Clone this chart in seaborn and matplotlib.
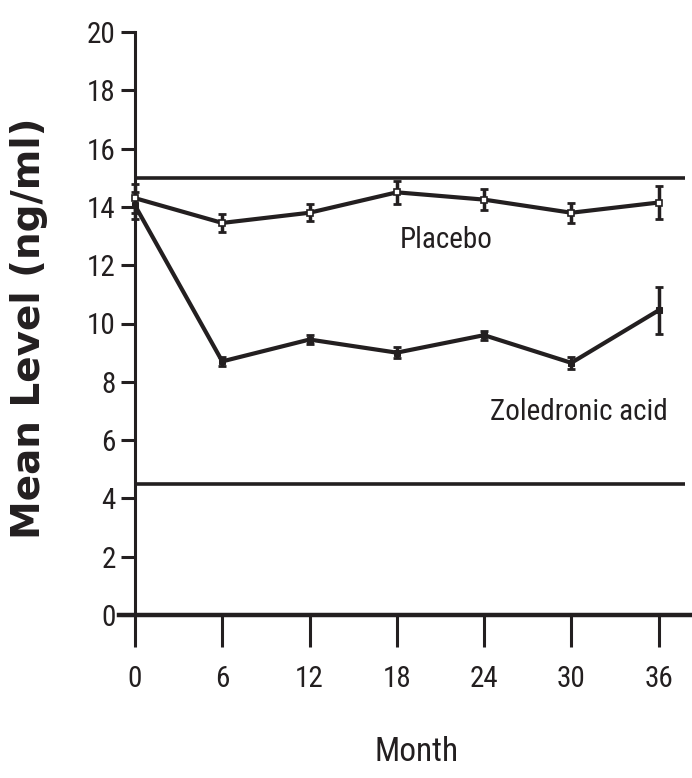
import matplotlib
matplotlib.use("Agg")
import matplotlib.pyplot as plt
import seaborn as sns
import pandas as pd
from matplotlib import font_manager

months = [0, 6, 12, 18, 24, 30, 36]
placebo = [14.3, 13.45, 13.8, 14.5, 14.25, 13.8, 14.15]
placebo_err = [0.5, 0.3, 0.3, 0.4, 0.35, 0.35, 0.55]
zoledronic = [14.05, 8.7, 9.45, 9.0, 9.6, 8.65, 10.45]
zoledronic_err = [0.45, 0.15, 0.15, 0.2, 0.15, 0.2, 0.8]
ref_upper = 15.0
ref_lower = 4.5
y_ticks = list(range(0, 21, 2))

sns.set_theme(style="white")

# prefer a condensed face when one is available
installed = {f.name for f in font_manager.fontManager.ttflist}
preferred = ["Roboto Condensed", "Open Sans Condensed", "Liberation Sans Narrow",
             "Roboto", "Liberation Sans"]
narrow = next((n for n in preferred if n in installed), "DejaVu Sans")
plt.rcParams["font.family"] = [narrow, "DejaVu Sans"]

ink = "#231f20"

df = pd.DataFrame({
    "Month": months * 2,
    "Level": placebo + zoledronic,
    "Group": ["Placebo"] * len(months) + ["Zoledronic acid"] * len(months),
})

fig = plt.figure(figsize=(6.92, 7.78), dpi=100)
ax = fig.add_axes([119 / 692, 1 - 615 / 778, (692 - 119) / 692, (615 - 32) / 778])

# reference range limits
ax.hlines([ref_upper, ref_lower], 0, 37.8, color=ink, lw=2.6, zorder=2)

sns.lineplot(data=df[df.Group == "Placebo"], x="Month", y="Level", ax=ax,
             color=ink, lw=3.0, marker="s", markersize=5,
             markerfacecolor="white", markeredgecolor=ink, markeredgewidth=1.2,
             errorbar=None, legend=False, zorder=4)
sns.lineplot(data=df[df.Group == "Zoledronic acid"], x="Month", y="Level", ax=ax,
             color=ink, lw=3.0, marker="s", markersize=5,
             markerfacecolor=ink, markeredgecolor=ink,
             errorbar=None, legend=False, zorder=4)

ax.errorbar(months, placebo, yerr=placebo_err, fmt="none", ecolor=ink,
            elinewidth=2.5, capsize=3, capthick=2.0, zorder=3)
ax.errorbar(months, zoledronic, yerr=zoledronic_err, fmt="none", ecolor=ink,
            elinewidth=2.5, capsize=3, capthick=2.0, zorder=3)

ax.set_xlim(-1.1, 38.3)
ax.set_ylim(0, 20)
ax.set_xticks(months)
ax.set_yticks(y_ticks)
ax.set_xticklabels([str(m) for m in months])
ax.set_yticklabels([str(v) for v in y_ticks])

for side in ("top", "right"):
    ax.spines[side].set_visible(False)
ax.spines["left"].set_position(("data", 0))
ax.spines["left"].set_color(ink)
ax.spines["left"].set_linewidth(2.2)
ax.spines["bottom"].set_color(ink)
ax.spines["bottom"].set_linewidth(3.2)

ax.tick_params(axis="y", direction="out", length=10, width=2.2, color=ink,
               pad=4, labelsize=21, labelcolor=ink, left=True)
ax.tick_params(axis="x", direction="out", length=23, width=2.2, color=ink,
               pad=13, labelsize=21, labelcolor=ink, bottom=True)

ax.set_xlabel("")
ax.set_ylabel("")

ax.text(21.4, 12.86, "Placebo", fontsize=21, color=ink, ha="center", va="center")
ax.text(30.5, 6.96, "Zoledronic acid", fontsize=21, color=ink, ha="center", va="center")

fig.text(417 / 692, 1 - 752 / 778, "Month", fontsize=24, color=ink,
         ha="center", va="center")
fig.text(29 / 692, 1 - 328 / 778, "Mean Level (ng/ml)", fontsize=28,
         fontweight="bold", family=["DejaVu Sans"], color=ink,
         rotation=90, ha="center", va="center")

fig.savefig("out.png", dpi=100, facecolor="white")
